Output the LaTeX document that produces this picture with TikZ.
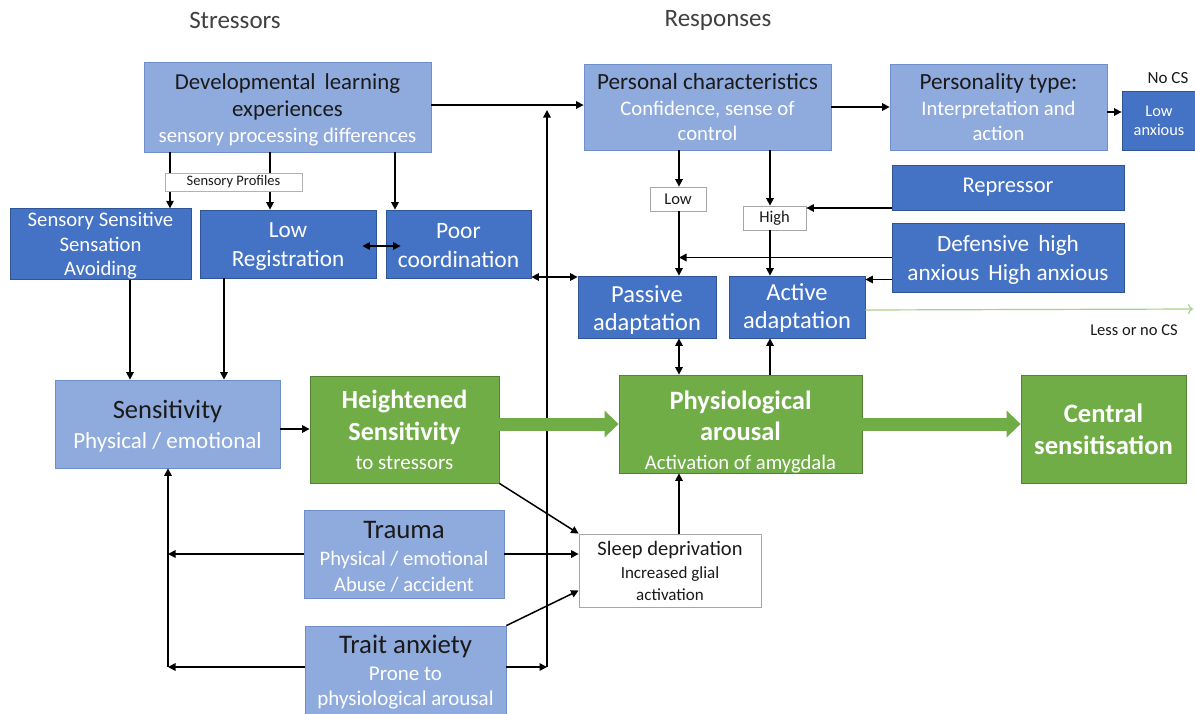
\documentclass[tikz,border=0pt]{standalone}
\usepackage{fontspec}
\setmainfont{Carlito}
\usetikzlibrary{arrows.meta,calc}

\definecolor{lbf}{HTML}{8FAADC}
\definecolor{lbd}{HTML}{6F8FCB}
\definecolor{dbf}{HTML}{4472C4}
\definecolor{dbd}{HTML}{2F5597}
\definecolor{gbf}{HTML}{70AD47}
\definecolor{gbd}{HTML}{548235}
\definecolor{txt}{HTML}{1A1A1A}
\definecolor{hdr}{HTML}{404040}
\definecolor{thin green}{HTML}{A9D18E}

\newcommand{\tsz}[2]{\fontsize{#1}{#2}\selectfont}
% white subtitle line inside a box
\newcommand{\wl}[2]{{\color{white}\fontsize{#1}{#1}\selectfont #2}}
% subtitle line in the regular text colour
\newcommand{\nl}[2]{{\fontsize{#1}{#1}\selectfont #2}}
% extra room above a first line
\newcommand{\raiseroom}[1]{\rule{0pt}{#1}}

\tikzset{
  box/.style={align=center, inner sep=0pt, line width=0.8pt},
  lb/.style={box, draw=lbd, fill=lbf, text=txt},
  db/.style={box, draw=dbd, fill=dbf, text=white},
  gb/.style={box, draw=gbd, fill=gbf, text=white},
  wb/.style={box, draw=gray!70, fill=white, text=txt},
  sz/.style 2 args={minimum width=#1pt, minimum height=#2pt},
  arr/.style={line width=1.5pt, -{Triangle[length=7.5pt,width=7.5pt]}},
  darr/.style={line width=1.5pt, {Triangle[length=7.5pt,width=7.5pt]}-{Triangle[length=7.5pt,width=7.5pt]}},
  fat/.style={draw=gbf, line width=13pt, -{Triangle[length=14pt,width=26pt]}},
  faint/.style={draw=thin green, line width=1.2pt, -{To[length=5pt,width=10pt]}},
  lbl/.style={text=txt, inner sep=0pt}
}

\begin{document}
\begin{tikzpicture}[x=1pt,y=-1pt]
\useasboundingbox[fill=white] (0,0) rectangle (1195,713);

% column headings
\node[text=hdr, font=\tsz{25}{28}] (hstr) at (235,20) {Stressors};
\node[text=hdr, font=\tsz{25}{28}] (hres) at (718,20) {Responses};

% fixed x positions of the vertical connectors
\coordinate (d1) at (170,0);
\coordinate (d2) at (270,0);
\coordinate (d3) at (395,0);
\coordinate (s1) at (130,0);
\coordinate (s2) at (224,0);
\coordinate (lx) at (679,0);
\coordinate (hx) at (770,0);
\coordinate (vx) at (547,0);
\coordinate (lv) at (168,0);
\coordinate (ty) at (0,667);
\coordinate (gend) at (1193,309);

% stressor boxes
\node[lb, sz={287}{90}, font=\tsz{22.8}{27}] (dev) at (287.5,107)
  {\raiseroom{22pt}Developmental\, learning\\experiences\\[-1pt]\wl{20.8}{sensory processing differences}};
\node[db, sz={181}{68}, font=\tsz{20.7}{24.5}] (ss) at (100.5,244)
  {\raiseroom{18pt}Sensory Sensitive\\Sensation\\Avoiding};
\node[db, sz={176}{68}, font=\tsz{23.2}{29}] (lr) at (288,244)
  {\raiseroom{19pt}Low\\Registration};
\node[db, sz={145}{68}, font=\tsz{23.5}{29}] (pc) at (458.5,244)
  {\raiseroom{19pt}Poor\\coordination};
\node[lb, sz={225}{88}, font=\tsz{26.5}{30}] (sens) at (167.5,424)
  {\raiseroom{22pt}Sensitivity\\\wl{23}{Physical / emotional}};
\node[lb, sz={200}{88}, font=\tsz{26.8}{27}] (trauma) at (404,554)
  {\raiseroom{22pt}Trauma\\\wl{20.6}{Physical / emotional}\\[-1pt]\wl{20.6}{Abuse / accident}};
\node[lb, sz={201}{89}, font=\tsz{26.8}{27}] (trait) at (405.5,670.5)
  {\raiseroom{22pt}Trait anxiety\\\wl{21}{Prone to}\\[-2pt]\wl{21}{physiological arousal}};

% green pathway
\node[gb, sz={189}{107}, font=\bfseries\tsz{26.2}{32}] (hs) at (404.5,429.5)
  {Heightened\\Sensitivity\\[-3pt]\nl{21}{\mdseries to stressors}};
\node[gb, sz={243}{98}, font=\bfseries\tsz{26.5}{31}] (phys) at (740.5,424)
  {\raiseroom{34pt}Physiological\\arousal\\[-2pt]\nl{20.7}{\mdseries Activation of amygdala}};
\node[gb, sz={165}{108}, font=\bfseries\tsz{26.6}{32}] (cen) at (1103.5,429)
  {Central\\sensitisation};

% response boxes
\node[lb, sz={247}{86}, font=\tsz{23.2}{26}] (pers) at (707.5,107)
  {Personal characteristics\\\wl{20.7}{Confidence, sense of}\\[-1pt]\wl{20.7}{control}};
\node[lb, sz={217}{86}, font=\tsz{23.2}{26}] (ptype) at (998.5,107)
  {Personality type:\\\wl{20.7}{Interpretation and}\\[-1pt]\wl{20.7}{action}};
\node[db, sz={74}{59}, font=\tsz{16.3}{19}] (lowanx) at (1159,120.5)
  {Low\\anxious};
\node[db, sz={232}{45}, font=\tsz{22.5}{25}] (rep) at (1008,187.5)
  {Repressor};
\node[db, sz={232}{69}, font=\tsz{23.2}{29}] (def) at (1008,257.5)
  {\raiseroom{20pt}Defensive\, high\\anxious\, High anxious};
\node[db, sz={138}{62}, font=\tsz{24.5}{28}] (pass) at (647,307)
  {\raiseroom{22pt}Passive\\adaptation};
\node[db, sz={136}{62}, font=\tsz{24.5}{28}] (act) at (797,307)
  {\raiseroom{19pt}Active\\adaptation};
\node[wb, sz={56}{24}, font=\tsz{16.5}{18}] (low) at (678,199) {Low};
\node[wb, sz={63}{24}, font=\tsz{16.5}{18}] (high) at (774.5,218) {High};
\node[wb, sz={182}{73}, font=\tsz{20.5}{23}] (sleep) at (670,570.5)
  {Sleep deprivation\\\nl{17}{Increased glial}\\[-1pt]\nl{17}{activation}};

% free labels
\node[lbl, font=\tsz{17}{19}] (nocs) at (1168,78) {No CS};
\node[lbl, font=\tsz{16.5}{19}] (lessnocs) at (1134,330) {Less or no CS};

% connectors from developmental learning experiences
\draw[arr] (dev.south -| d1) -- (ss.north -| d1);
\draw[arr] (dev.south -| d2) -- (lr.north -| d2);
\draw[arr] (dev.south -| d3) -- (pc.north -| d3);
\draw[darr] ($(lr.east)+(-14,2)$) -- ($(pc.west)+(15,2)$);
\draw[arr] (ss.south -| s1) -- (sens.north -| s1);
\draw[arr] (lr.south -| s2) -- (sens.north -| s2);
\draw[arr] ([yshift=2pt]dev.east) -- ([yshift=2pt]dev.east -| pers.west);
\draw[darr] ([yshift=-33pt]pc.east) -- ([yshift=-33pt]pc.east -| pass.west);

% long riser from trait anxiety
\draw[arr] (ty -| vx) -- ([yshift=-3pt]dev.east -| vx);
\draw[arr] (ty -| trait.east) -- (ty -| vx);
\draw[arr] (ty -| trait.west) -- (ty -| lv);
\draw[arr] (trauma.west) -- (trauma.west -| lv);
\draw[arr] (ty -| lv) -- (sens.south -| lv);
\draw[arr] (trauma.east) -- (trauma.east -| sleep.west);
\draw[arr] (trait.north east) -- ([yshift=-20pt]sleep.west);
\draw[arr] (hs.south east) -- (sleep.north west);
\draw[arr] ([yshift=-5pt]sens.east) -- ([yshift=-5pt]sens.east -| hs.west);

% responses
\draw[arr] (pers.east) -- (ptype.west);
\draw[arr] ([yshift=-5pt]ptype.east) -- ([yshift=-5pt]ptype.east -| lowanx.west);
\draw[arr] (pers.south -| lx) -- (low.north -| lx);
\draw[arr] (low.south -| lx) -- (pass.north -| lx);
\draw[arr] (pers.south -| hx) -- (high.north -| hx);
\draw[arr] (high.south -| hx) -- (act.north -| hx);
\draw[arr] ([yshift=-20.5pt]rep.west) -- ([yshift=-20.5pt]rep.west -| high.east);
\draw[arr] (def.west) -- (def.west -| lx);
\draw[arr] ([yshift=-22pt]def.west) -- ([yshift=-22pt]def.west -| act.east);
\draw[darr] (phys.north -| lx) -- (pass.south -| lx);
\draw[arr] (phys.north -| hx) -- (act.south -| hx);
\draw[arr] (sleep.north -| lx) -- (phys.south -| lx);
\draw[faint] ([yshift=-3pt]act.east) -- (gend);

% label over the two profile connectors
\node[wb, draw=gray!60, line width=0.6pt, sz={137}{18}, font=\tsz{14.5}{16}] (sprof) at (233.5,182) {Sensory Profiles};

% broad green arrows
\draw[fat] (phys.west -| hs.east) -- (phys.west);
\draw[fat] (phys.east) -- (phys.east -| cen.west);
\end{tikzpicture}
\end{document}
